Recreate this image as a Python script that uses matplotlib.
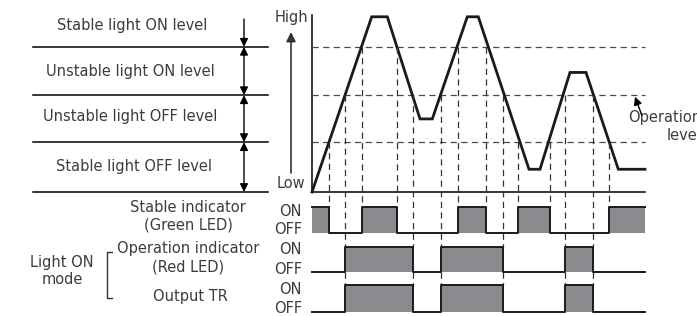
import matplotlib
matplotlib.use("Agg")
from matplotlib import pyplot as plt
import numpy as np

# light level waveform (time in px from the level axis, level in threshold units)
wave_t = [0, 59.7, 75.3, 108, 120.3, 155.3, 166.3, 217, 228, 258, 274, 306.3, 333]
wave_lv = [0, 3.62, 3.62, 1.51, 1.51, 3.62, 3.62, 0.47, 0.47, 2.47, 2.47, 0.47, 0.47]

# threshold levels: stable OFF, operation, stable ON
thresholds = [1.03, 2.0, 3.0]

# output signals (state from each time on)
stable_t = [0, 17.3, 49.7, 84.7, 145.7, 174, 206.3, 238, 297.3, 333]
stable_on = [1, 0, 1, 0, 1, 0, 1, 0, 1, 1]
oper_t = [0, 33, 101.3, 128.7, 191.3, 253, 281.3, 333]
oper_on = [0, 1, 0, 1, 0, 1, 0, 0]

# edge times with the threshold they come from
stable_edges = [17.3, 49.7, 84.7, 145.7, 174, 206.3, 238, 297.3]
stable_edge_lv = [1.03, 3.0, 3.0, 3.0, 3.0, 1.03, 1.03, 1.03]
oper_edges = [33, 101.3, 128.7, 191.3, 253, 281.3]

level_names = ["Stable light ON level", "Unstable light ON level",
               "Unstable light OFF level", "Stable light OFF level"]

LS = 48.4      # px per level unit
Y0 = 192       # baseline pixel row
X0 = 312       # level axis pixel column


def lv(p):
    # pixel row -> level coordinate (layout only)
    return (Y0 - p) / LS


fig = plt.figure(figsize=(6.97, 3.16), dpi=100)
ax = fig.add_axes([0, 0, 1, 1])
ax.set_xlim(-X0, 697 - X0)
ax.set_ylim(lv(316), lv(0))
ax.axis("off")

txt = "#3c3c3c"
gray = "#8b8b8f"
fs = 10.5
dash = (0, (5, 3.5))

# ---- left side: level bands
for y in [0] + thresholds:
    ax.plot([-279, -44], [y, y], color="black", lw=1.1)
ax.annotate("", xy=(-68, thresholds[2]), xytext=(-68, lv(19)),
            arrowprops=dict(arrowstyle="-|>", color="black", lw=1, mutation_scale=12,
                            shrinkA=0, shrinkB=0))
bands = [thresholds[2], thresholds[1], thresholds[0], 0]
for a, b in zip(bands[:-1], bands[1:]):
    ax.annotate("", xy=(-68, b), xytext=(-68, a),
                arrowprops=dict(arrowstyle="<|-|>", color="black", lw=1, mutation_scale=12,
                                shrinkA=0, shrinkB=0))
label_y = [lv(26), lv(72), lv(117), lv(167)]
label_x = [-180, -182, -182, -178]
for name, x, y in zip(level_names, label_x, label_y):
    ax.text(x, y, name, ha="center", va="center", fontsize=fs, color=txt)

# High / Low axis
ax.text(-21, lv(18), "High", ha="center", va="center", fontsize=fs, color=txt)
ax.text(-21, lv(184), "Low", ha="center", va="center", fontsize=fs, color=txt)
ax.annotate("", xy=(-21, lv(32)), xytext=(-21, lv(173)),
            arrowprops=dict(arrowstyle="-|>", color="#333333", lw=1.2, mutation_scale=14,
                            shrinkA=0, shrinkB=0))
ax.plot([0, 0], [0, lv(15)], color="black", lw=1.1)
ax.plot([0, 333], [0, 0], color="black", lw=1.1)

# dashed threshold lines
for y in thresholds:
    ax.plot([0, 333], [y, y], color="#4a4a4a", lw=0.9, ls=dash)

# waveform
ax.plot(wave_t, wave_lv, color="#1a1a1a", lw=2.0, solid_joinstyle="miter")

# ---- signal rows: (off level, on level)
row_stable = (lv(233.3), lv(206.7))
row_oper = (lv(272.3), lv(246.7))
row_out = (lv(312.3), lv(285))

# vertical dashed guides
for t, y in zip(stable_edges, stable_edge_lv):
    ax.plot([t, t], [y, row_stable[1]], color="#333333", lw=0.9, ls=dash)
for t in oper_edges:
    ax.plot([t, t], [thresholds[1], row_oper[1]], color="#333333", lw=0.9, ls=dash)
    ax.plot([t, t], [row_oper[0], row_out[1]], color="#333333", lw=0.9, ls=dash)


def draw_signal(t, on, row):
    off, hi = row
    y = [off + (hi - off) * s for s in on]
    ax.fill_between(t, off, y, step="post", color=gray, lw=0)
    ax.step(t, y, where="post", color="#1a1a1a", lw=1.4)


draw_signal(stable_t, stable_on, row_stable)
draw_signal(oper_t, oper_on, row_oper)
draw_signal(oper_t, oper_on, row_out)

# signal labels
onoff = [(lv(211), "ON"), (lv(230), "OFF"), (lv(250), "ON"), (lv(270), "OFF"),
         (lv(290), "ON"), (lv(308.5), "OFF")]
for y, s in onoff:
    ax.text(-10, y, s, ha="right", va="center", fontsize=fs, color=txt)

ax.text(-124, lv(207), "Stable indicator", ha="center", va="center", fontsize=fs, color=txt)
ax.text(-124, lv(225), "(Green LED)", ha="center", va="center", fontsize=fs, color=txt)
ax.text(-124, lv(248), "Operation indicator", ha="center", va="center", fontsize=fs, color=txt)
ax.text(-124, lv(266.5), "(Red LED)", ha="center", va="center", fontsize=fs, color=txt)
ax.text(-122, lv(296.5), "Output TR", ha="center", va="center", fontsize=fs, color=txt)
ax.text(-250, lv(263), "Light ON", ha="center", va="center", fontsize=fs, color=txt)
ax.text(-250, lv(280), "mode", ha="center", va="center", fontsize=fs, color=txt)

# bracket
ax.plot([-200.3, -205.3, -205.3, -200.3], [lv(251.7), lv(251.7), lv(298.3), lv(298.3)],
        color="#333333", lw=1)

# operation level note (cut by the right edge, as in the original)
ax.text(389, lv(126.5), "Operation\nlevel", ha="right", va="center", fontsize=fs,
        color=txt, linespacing=1.3, multialignment="right")
ax.annotate("", xy=(323, lv(96.7)), xytext=(329.7, lv(115)),
            arrowprops=dict(arrowstyle="-|>", color="black", lw=1, mutation_scale=12,
                            shrinkA=0, shrinkB=0))

fig.savefig("out.png", dpi=100)
